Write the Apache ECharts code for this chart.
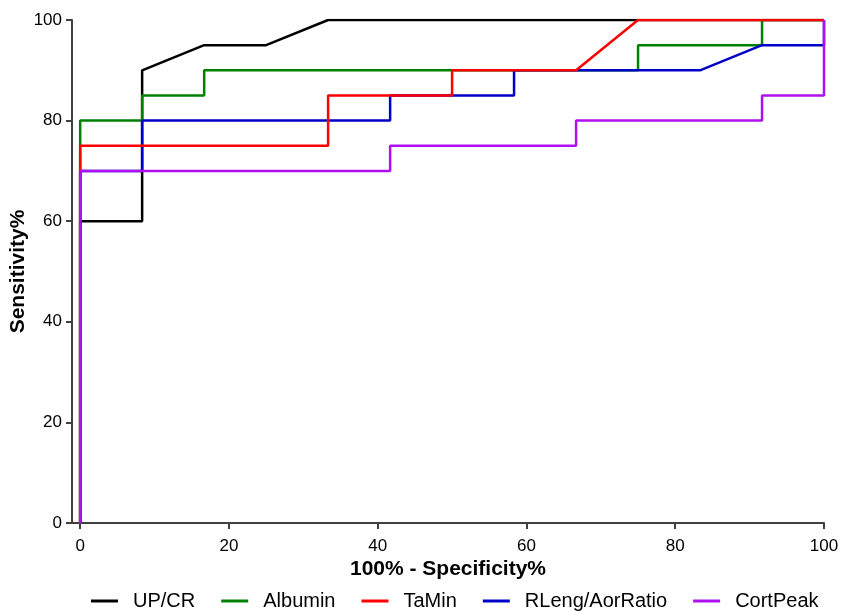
<!DOCTYPE html>
<html>
<head>
<meta charset="utf-8">
<script src="https://cdn.jsdelivr.net/npm/echarts@6/dist/echarts.min.js"></script>
<style>
  html, body { margin: 0; padding: 0; background: #fff; }
  #chart { width: 841px; height: 611px; }
</style>
</head>
<body>
<div id="chart"></div>
<script>
// ROC curves: [100% - specificity, sensitivity]
var seriesNames = ['UP/CR', 'Albumin', 'TaMin', 'RLeng/AorRatio', 'CortPeak'];
var seriesColors = ['#000000', '#008000', '#ff0000', '#0000c8', '#b010f0'];
var tickValues = [0, 20, 40, 60, 80, 100];

var upcr = [[0, 0], [0, 60], [8.33, 60], [8.33, 90], [16.67, 95], [25, 95], [33.33, 100], [100, 100]];
var albumin = [[0, 0], [0, 80], [8.33, 80], [8.33, 85], [16.67, 85], [16.67, 90], [75, 90], [75, 95],
  [91.67, 95], [91.67, 100], [100, 100]];
var taMin = [[0, 0], [0, 75], [33.33, 75], [33.33, 85], [50, 85], [50, 90], [66.67, 90], [75, 100], [100, 100]];
var rleng = [[0, 0], [0, 70], [8.33, 70], [8.33, 80], [41.67, 80], [41.67, 85], [58.33, 85], [58.33, 90],
  [83.33, 90], [91.67, 95], [100, 95], [100, 100]];
var cortPeak = [[0, 0], [0, 70], [41.67, 70], [41.67, 75], [66.67, 75], [66.67, 80], [91.67, 80],
  [91.67, 85], [100, 85], [100, 100]];

var seriesData = [upcr, albumin, taMin, rleng, cortPeak];
// drawing order seen in the picture: red over blue, purple on top
var seriesZ = [2, 3, 5, 4, 6];

var font = '"Liberation Sans", Arial, sans-serif';

var chart = echarts.init(document.getElementById('chart'));

var series = seriesNames.map(function (name, i) {
  return {
    name: name,
    type: 'line',
    data: seriesData[i],
    z: seriesZ[i],
    showSymbol: false,
    symbol: 'none',
    lineStyle: { color: seriesColors[i], width: 2.5 },
    itemStyle: { color: seriesColors[i] },
    animation: false
  };
});

var option = {
  backgroundColor: '#fff',
  animation: false,
  grid: { left: 72, right: 17, top: 20, bottom: 88, containLabel: false, outerBoundsMode: 'none' },
  xAxis: {
    type: 'value',
    min: -1.1,
    max: 100,
    name: '100% - Specificity%',
    nameLocation: 'middle',
    nameGap: 36,
    nameMoveOverlap: false,
    nameTextStyle: { fontFamily: font, fontWeight: 'bold', fontSize: 21, color: '#000' },
    splitLine: { show: false },
    axisLine: { show: true, onZero: false, lineStyle: { color: '#404040', width: 2 } },
    axisTick: { show: true, length: 6, customValues: tickValues, lineStyle: { color: '#404040', width: 2 } },
    axisLabel: { customValues: tickValues, fontFamily: font, fontSize: 17, color: '#000', margin: 15 }
  },
  yAxis: {
    type: 'value',
    min: 0,
    max: 100,
    interval: 20,
    name: 'Sensitivity%',
    nameLocation: 'middle',
    nameGap: 43,
    nameMoveOverlap: false,
    nameTextStyle: { fontFamily: font, fontWeight: 'bold', fontSize: 21, color: '#000' },
    splitLine: { show: false },
    axisLine: { show: true, onZero: false, lineStyle: { color: '#404040', width: 2 } },
    axisTick: { show: true, length: 6, lineStyle: { color: '#404040', width: 2 } },
    axisLabel: { fontFamily: font, fontSize: 17, color: '#000', margin: 10 }
  },
  legend: {
    top: 586,
    left: 86,
    itemGap: 26,
    itemWidth: 27,
    itemHeight: 3,
    icon: 'rect',
    textStyle: { fontFamily: font, fontSize: 20, color: '#000', padding: [0, 0, 0, 10] },
    data: seriesNames
  },
  series: series
};

chart.setOption(option);
</script>
</body>
</html>
